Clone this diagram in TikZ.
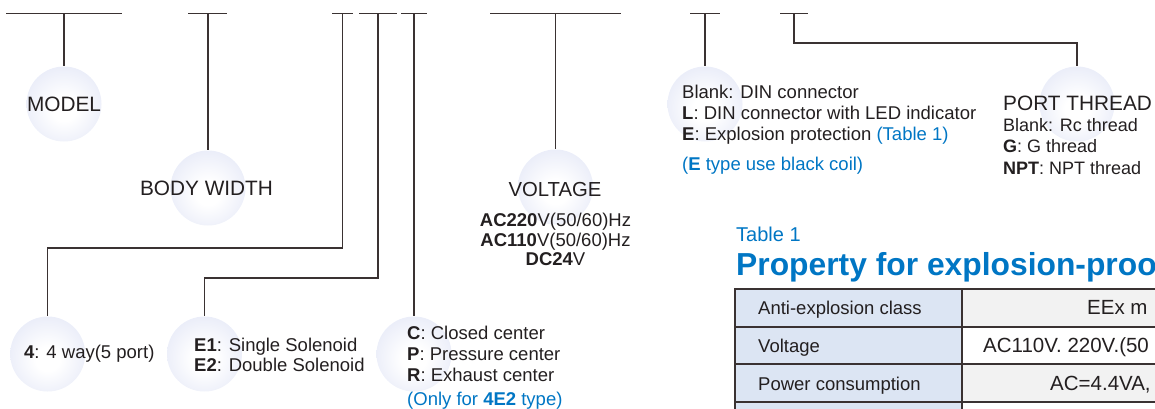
\documentclass[tikz,border=0pt]{standalone}
\usepackage{fontspec}
\setmainfont{Liberation Sans}
\definecolor{ln}{RGB}{58,50,50}
\definecolor{tx}{RGB}{35,31,32}
\definecolor{bl}{RGB}{0,118,196}
\definecolor{ballc}{RGB}{210,216,241}
\definecolor{cellb}{RGB}{220,229,243}
\definecolor{cellg}{RGB}{242,242,242}
\pgfdeclareradialshading{myball}{\pgfpoint{0bp}{-4bp}}{color(0bp)=(white); color(8bp)=(white); color(50bp)=(ballc)}
\begin{document}
\begin{tikzpicture}[x=1pt,y=-1pt,
  bar/.style={draw=ln, line width=1.4pt},
  conn/.style={draw=ln, line width=1.3pt},
  ball/.style={circle, minimum size=75pt, inner sep=0pt, shading=myball},
  lbl/.style={font=\fontsize{18.5}{21}\selectfont, text=tx, inner sep=0pt, anchor=base west},
  big/.style={font=\fontsize{20.8}{24}\selectfont, text=tx, inner sep=0pt, anchor=base},
  vlt/.style={font=\fontsize{18.5}{21}\selectfont, text=tx, inner sep=0pt, anchor=base},
  rcol/.style={font=\fontsize{20.5}{24}\selectfont, text=tx, inner sep=0pt, anchor=base west},
  tline/.style={draw=ln, line width=1.3pt}
]
\useasboundingbox (0,0) rectangle (1155,408);
\clip (0,0) rectangle (1155,408);

% top bars
\draw[bar] (6,13.3) -- (122,13.3);
\draw[bar] (188,13.3) -- (227,13.3);
\draw[bar] (332,13.3) -- (353,13.3);
\draw[bar] (359,13.3) -- (397,13.3);
\draw[bar] (401,13.3) -- (427,13.3);
\draw[bar] (490,13.3) -- (621,13.3);
\draw[bar] (690,13.3) -- (720,13.3);
\draw[bar] (780,13.3) -- (808,13.3);
\coordinate (t1) at (64,13.3);
\coordinate (t2) at (208,13.3);
\coordinate (t3) at (342.5,13.3);
\coordinate (t4) at (378,13.3);
\coordinate (t5) at (414,13.3);
\coordinate (t6) at (555.5,13.3);
\coordinate (t7) at (705,13.3);
\coordinate (t8) at (794,13.3);
\coordinate (k3) at (342.5,248);
\coordinate (k4) at (378,278);
\coordinate (k8) at (794,43);

% circles
\node[ball] (model) at (64,104) {};
\node[ball] (body) at (208,188) {};
\node[ball] (way) at (47.7,354) {};
\node[ball] (sol) at (204.5,354) {};
\node[ball] (ctr) at (414,354) {};
\node[ball] (volt) at (555.5,187) {};
\node[ball] (din) at (705,104) {};
\node[ball] (port) at (1077,104) {};

% connectors
\draw[conn] (t1) -- (model.north);
\draw[conn] (t2) -- (body.north);
\draw[conn] (t3) -- (k3) -| (way.north);
\draw[conn] (t4) -- (k4) -| (sol.north);
\draw[conn] (t5) -- (ctr.north);
\draw[conn] (t6) -- (volt.north);
\draw[conn] (t7) -- (din.north);
\draw[conn] (t8) -- (k8) -| (port.north);

% labels
\node[big] (modelt) at (64,111.7) {MODEL};
\node[big] (bodyt) at (206.5,195.7) {BODY WIDTH};
\node[big, font=\fontsize{20.3}{24}\selectfont] (voltt) at (555,196) {VOLTAGE};
\node[vlt] (v1) at (555.5,226) {\textbf{AC220}V(50/60)Hz};
\node[vlt] (v2) at (555.5,246) {\textbf{AC110}V(50/60)Hz};
\node[vlt] (v3) at (555.5,265) {\textbf{DC24}V};

\node[lbl] (wayt) at (24,358.5) {\textbf{4}: 4 way(5 port)};
\node[lbl] (e1) at (194,351) {\textbf{E1}: Single Solenoid};
\node[lbl] (e2) at (194,371) {\textbf{E2}: Double Solenoid};
\node[lbl] (cc) at (407,339) {\textbf{C}: Closed center};
\node[lbl] (pc) at (407,360) {\textbf{P}: Pressure center};
\node[lbl] (rc) at (407,381) {\textbf{R}: Exhaust center};
\node[lbl, text=bl] (only) at (407,405) {(Only for \textbf{4E2} type)};

\node[lbl] (d1) at (682,98.3) {Blank: DIN connector};
\node[lbl] (d2) at (682,119.3) {\textbf{L}: DIN connector with LED indicator};
\node[lbl] (d3) at (682,140) {\textbf{E}: Explosion protection \textcolor{bl}{(Table 1)}};
\node[lbl, text=bl] (d4) at (682,170) {(\textbf{E} type use black coil)};

\node[big, anchor=base west] (portt) at (1003,110.7) {PORT THREAD};
\node[lbl, font=\fontsize{18}{21}\selectfont] (p1) at (1003,131) {Blank: Rc thread};
\node[lbl, font=\fontsize{18}{21}\selectfont] (p2) at (1003,152.3) {\textbf{G}: G thread};
\node[lbl, font=\fontsize{18}{21}\selectfont] (p3) at (1003,174) {\textbf{NPT}: NPT thread};

% table heading
\node[lbl, text=bl, font=\fontsize{20}{24}\selectfont] (tab1) at (736,241.7) {Table 1};
\node[lbl, text=bl, font=\fontsize{31.8}{36}\selectfont\bfseries] (title) at (736,275.5) {Property for explosion-proo};

% table
\fill[cellb] (735,289) rectangle (962,440);
\fill[cellg] (962,289) rectangle (1200,327);
\fill[white] (962,327) rectangle (1200,364);
\fill[cellg] (962,364) rectangle (1200,402);
\draw[tline] (1200,289) -- (735,289) -- (735,440);
\draw[tline] (735,327) -- (1200,327);
\draw[tline] (735,364) -- (1200,364);
\draw[tline] (735,402) -- (1200,402);
\draw[tline] (962,289) -- (962,440);

\node[lbl] (r1a) at (758,314.3) {Anti-explosion class};
\node[lbl] (r2a) at (758,352.3) {Voltage};
\node[lbl] (r3a) at (758,390) {Power consumption};
\node[rcol] (r1b) at (1087,314.3) {EEx m};
\node[rcol] (r2b) at (983,352.3) {AC110V. 220V.(50};
\node[rcol] (r3b) at (1050,390) {AC=4.4VA,};
\end{tikzpicture}
\end{document}
